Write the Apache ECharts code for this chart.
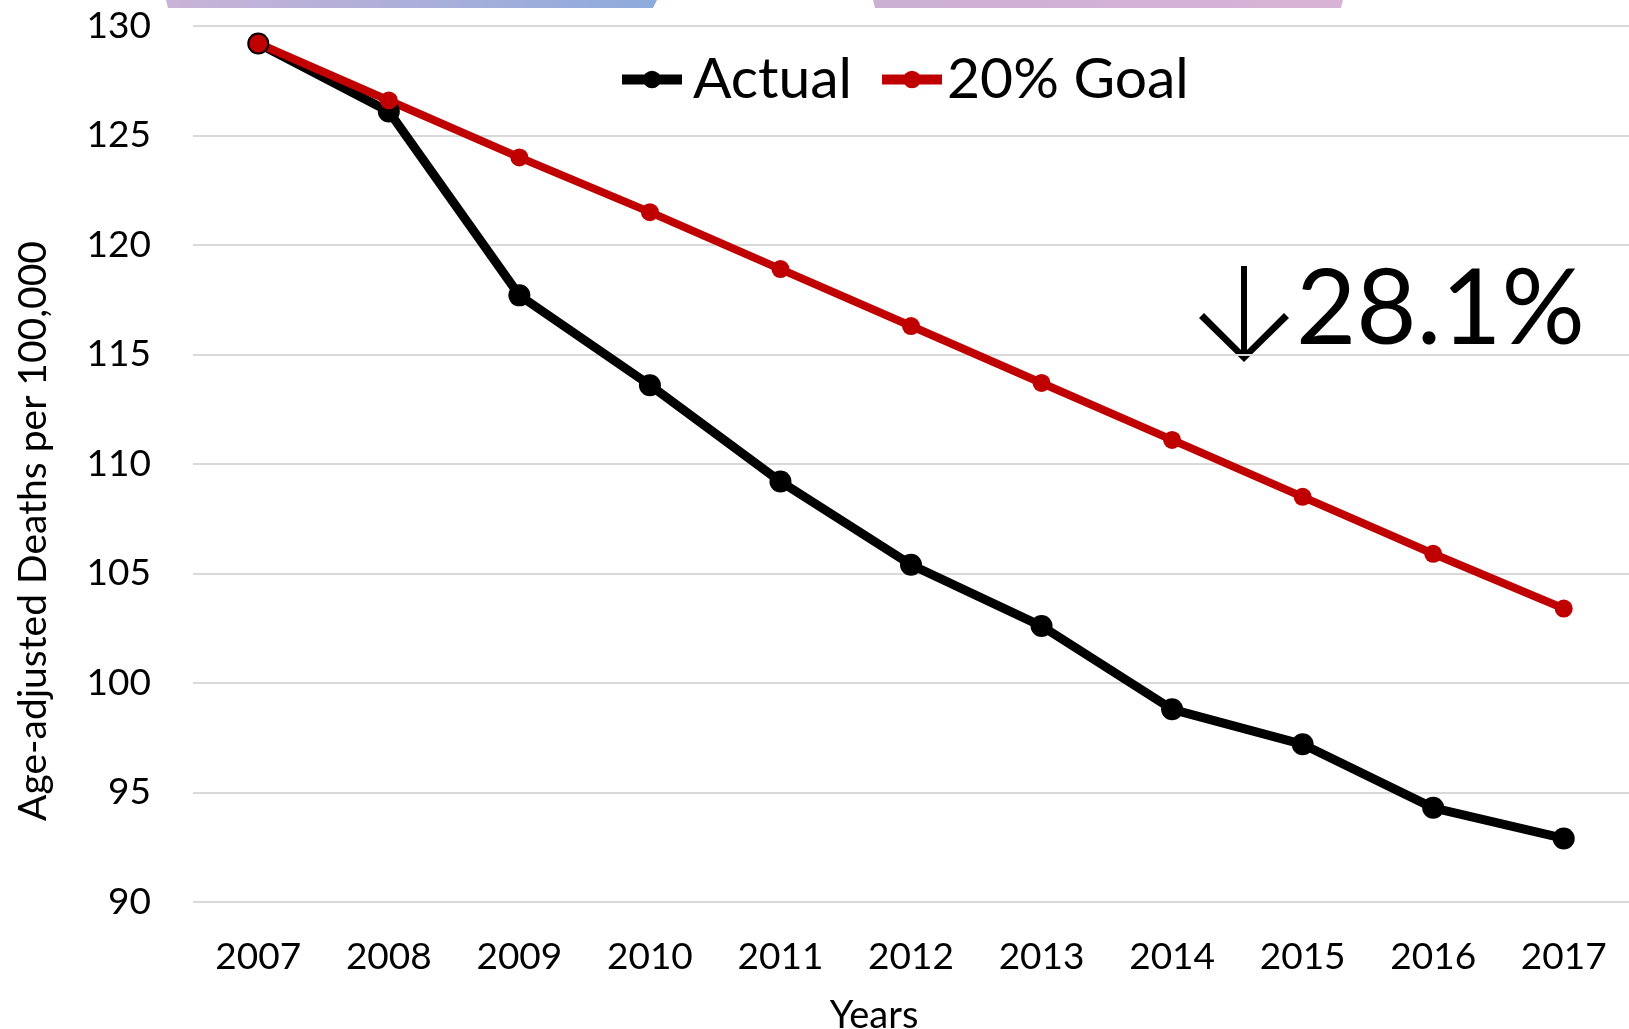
<!DOCTYPE html>
<html>
<head>
<meta charset="utf-8">
<script src="https://cdn.jsdelivr.net/npm/echarts@6/dist/echarts.min.js"></script>
<style>
  html, body { margin: 0; padding: 0; background: #fff; }
  #main { width: 1629px; height: 1029px; }
</style>
</head>
<body>
<div id="main"></div>
<script>
// values
const years = ['2007', '2008', '2009', '2010', '2011', '2012', '2013', '2014', '2015', '2016', '2017'];
const actual = [129.2, 126.1, 117.7, 113.6, 109.2, 105.4, 102.6, 98.8, 97.2, 94.3, 92.9];
const goal = [129.2, 126.6, 124.0, 121.5, 118.9, 116.3, 113.7, 111.1, 108.5, 105.9, 103.4];
const seriesNames = ['Actual', '20% Goal'];
const changeLabel = '28.1%';

const FONT = 'Lato, "Open Sans", sans-serif';

const chart = echarts.init(document.getElementById('main'), null, { renderer: 'canvas' });

const option = {
    animation: false,
    backgroundColor: '#ffffff',
    grid: {
        left: 193,
        right: 0,
        top: 26,
        bottom: 127,
        outerBoundsMode: 'none'
    },
    legend: {
        data: [
            { name: seriesNames[0], textStyle: { padding: [0, 0, 0, 6] } },
            { name: seriesNames[1], textStyle: { padding: [0, 0, 0, 0] } }
        ],
        left: 617,
        top: 51,
        padding: 0,
        itemWidth: 60,
        itemHeight: 22,
        itemGap: 25,
        lineStyle: { width: 10 },
        textStyle: {
            fontFamily: FONT,
            fontSize: 57,
            color: '#000'
        }
    },
    xAxis: {
        type: 'category',
        data: years,
        boundaryGap: true,
        name: 'Years',
        nameLocation: 'middle',
        nameGap: 95,
        nameTextStyle: {
            fontFamily: FONT,
            fontSize: 38,
            color: '#000',
            padding: [0, 74, 0, 0]
        },
        axisLine: { show: false },
        axisTick: { show: false },
        axisLabel: {
            margin: 37,
            fontFamily: FONT,
            fontSize: 37,
            color: '#000'
        }
    },
    yAxis: {
        type: 'value',
        min: 90,
        max: 130,
        interval: 5,
        name: 'Age-adjusted Deaths per 100,000',
        nameLocation: 'middle',
        nameRotate: 90,
        nameGap: 140,
        nameTextStyle: {
            fontFamily: FONT,
            fontSize: 39,
            color: '#000',
            padding: [0, 134, 0, 0]
        },
        axisLine: { show: false },
        axisTick: { show: false },
        axisLabel: {
            margin: 42,
            fontFamily: FONT,
            fontSize: 37,
            color: '#000'
        },
        splitLine: {
            lineStyle: { color: '#d9d9d9', width: 2 }
        }
    },
    series: [{
        name: seriesNames[0],
        type: 'line',
        data: actual,
        symbol: 'circle',
        symbolSize: 22,
        color: '#000000',
        lineStyle: { color: '#000000', width: 9 },
        itemStyle: { color: '#000000' }
    }, {
        name: seriesNames[1],
        type: 'line',
        data: goal,
        symbol: 'circle',
        symbolSize: 18,
        color: '#c00000',
        lineStyle: { color: '#c00000', width: 8 },
        itemStyle: { color: '#c00000' }
    }],
    graphic: [
        // slide decoration bars clipped at the top edge
        {
            type: 'polygon',
            shape: { points: [[166, 0], [657, 0], [653, 8], [168, 8]] },
            style: {
                fill: new echarts.graphic.LinearGradient(0, 0, 1, 0, [
                    { offset: 0, color: '#cab3d7' },
                    { offset: 1, color: '#8dabdc' }
                ])
            },
            silent: true
        },
        {
            type: 'polygon',
            shape: { points: [[873, 0], [1343, 0], [1341, 8], [875, 8]] },
            style: {
                fill: new echarts.graphic.LinearGradient(0, 0, 1, 0, [
                    { offset: 0, color: '#cbb0d4' },
                    { offset: 1, color: '#d9b3d6' }
                ])
            },
            silent: true
        },
        // down arrow, drawn as filled shapes
        {
            type: 'rect',
            shape: { x: 1241, y: 266, width: 6, height: 88 },
            style: { fill: '#000000' }
        },
        {
            type: 'polygon',
            shape: { points: [[1244, 362], [1199, 318], [1204, 313], [1244, 353], [1284, 313], [1289, 318]] },
            style: { fill: '#000000' }
        },
        {
            type: 'text',
            style: {
                x: 1296,
                y: 310,
                text: changeLabel,
                fontFamily: FONT,
                fontSize: 104,
                fill: '#000',
                verticalAlign: 'middle',
                align: 'left'
            }
        }
    ]
};

chart.setOption(option);
</script>
</body>
</html>
